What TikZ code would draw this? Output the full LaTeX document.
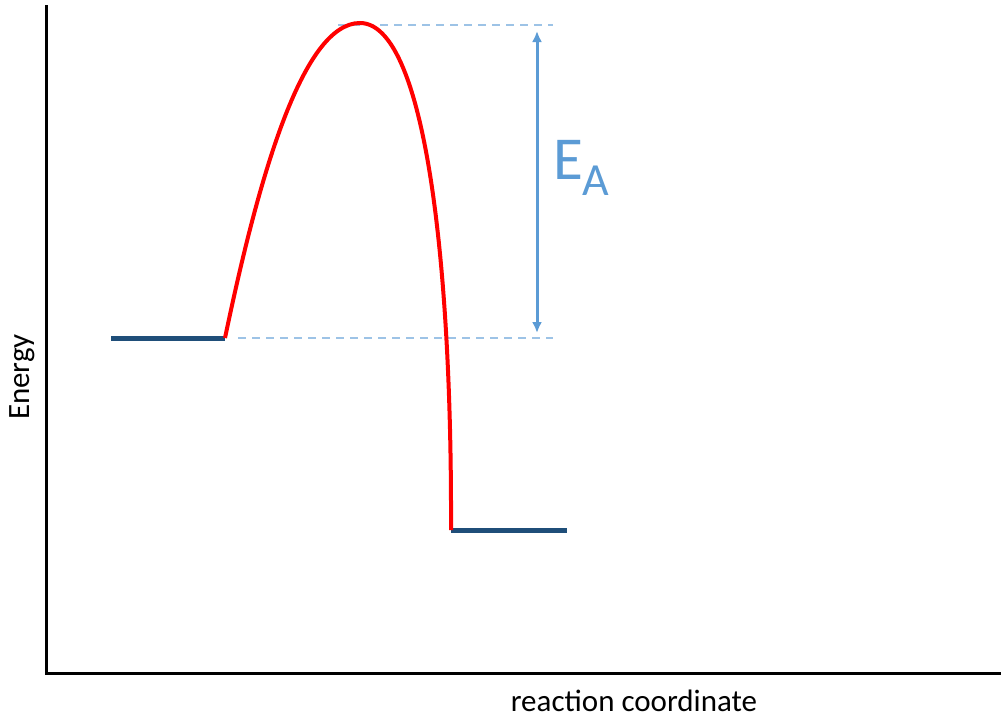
\documentclass[tikz,border=0pt]{standalone}
\usepackage{fontspec}
\setmainfont{Carlito}
\usetikzlibrary{arrows.meta}
\definecolor{lvl}{HTML}{1F4E79}
\definecolor{dsh}{HTML}{9DC3E6}
\definecolor{arr}{HTML}{5B9BD5}
\begin{document}
\begin{tikzpicture}[x=1pt,y=-1pt,
  axis/.style={line width=3pt,black},
  level/.style={line width=5pt,lvl},
  guide/.style={line width=1.5pt,dsh,dash pattern=on 8pt off 6pt},
  barrier/.style={line width=4pt,red},
  eaarrow/.style={line width=3pt,arr,{Latex[length=11pt,width=10pt]}-{Latex[length=11pt,width=10pt]}},
  lbl/.style={font=\fontsize{31}{35}\selectfont,inner sep=0pt}]
\useasboundingbox[fill=white] (0,0) rectangle (1003,720);
% axes
\coordinate (top) at (46,5);
\coordinate (origin) at (46,673);
\coordinate (right) at (1001,673);
\draw[axis] (top) -- (origin) -- (right);
% levels
\coordinate (r1) at (111,338);
\coordinate (r2) at (225,338);
\coordinate (p1) at (451,530);
\coordinate (p2) at (567,530);
\coordinate (peak) at (360,23);
\draw[level] (r1) -- (r2);
\draw[level] (p1) -- (p2);
% guides
\coordinate (g1a) at (338,25);
\coordinate (g1b) at (553,25);
\coordinate (g2a) at (238,338);
\coordinate (g2b) at (553,338);
\draw[guide] (g1a) -- (g1b);
\draw[guide] (g2a) -- (g2b);
% barrier
\draw[barrier] (r2) .. controls (258,180) and (302,23) .. (peak)
  .. controls (423,23) and (452,250) .. (p1);
% arrow
\coordinate (a1) at (537,31);
\coordinate (a2) at (537,333);
\draw[eaarrow] (a1) -- (a2);
\node[inner sep=0pt,anchor=base west,text=arr] (ea) at (553,179)
  {\fontsize{61}{65}\selectfont E\raisebox{-16pt}{\fontsize{46}{50}\selectfont A}};
% labels
\node[lbl,anchor=north] (xl) at (634,690) {reaction coordinate};
\node[lbl,rotate=90] (yl) at (22,377) {Energy};
\end{tikzpicture}
\end{document}
